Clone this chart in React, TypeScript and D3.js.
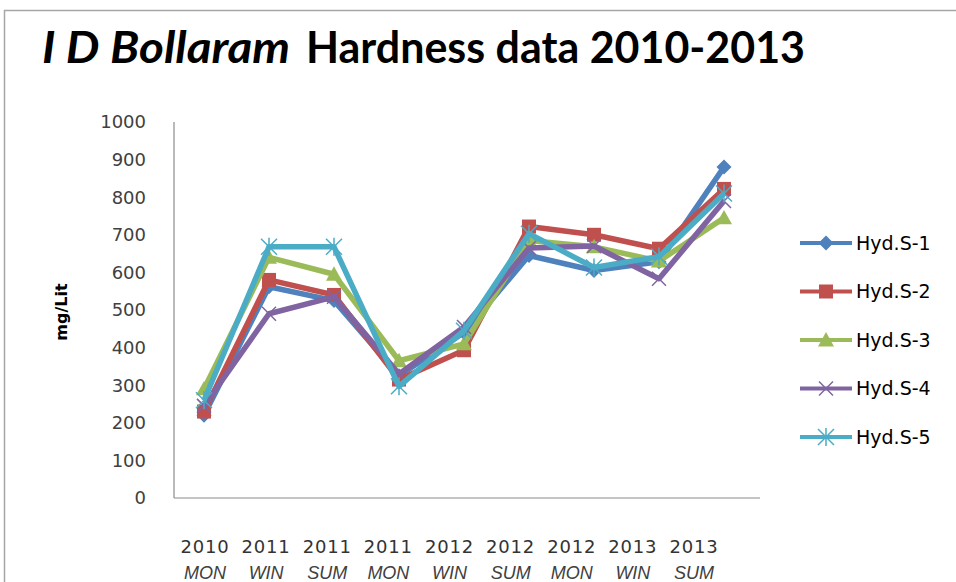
import React from "react";
import * as d3 from "d3";

const categories = ["2010|MON", "2011|WIN", "2011|SUM", "2011|MON", "2012|WIN", "2012|SUM", "2012|MON", "2013|WIN", "2013|SUM"];
const seriesNames = ["Hyd.S-1", "Hyd.S-2", "Hyd.S-3", "Hyd.S-4", "Hyd.S-5"];
const s1 = [220, 562, 525, 325, 440, 645, 605, 628, 880];
const s2 = [230, 580, 540, 315, 393, 722, 700, 663, 822];
const s3 = [290, 640, 595, 365, 410, 685, 668, 630, 745];
const s4 = [245, 490, 535, 330, 455, 665, 670, 583, 790];
const s5 = [260, 668, 668, 297, 445, 703, 613, 642, 810];
const yTicks = [0, 100, 200, 300, 400, 500, 600, 700, 800, 900, 1000];
const colors = ["#4F81BD", "#C0504D", "#9BBB59", "#8064A2", "#4BACC6"];
const markers = ["diamond", "square", "triangle", "x", "star"];

const W = 956, H = 582;

function Marker({ type, x, y, color }: { type: string; x: number; y: number; color: string }) {
  if (type === "diamond") {
    const s = 7.5;
    return <path d={`M${x},${y - s}L${x + s},${y}L${x},${y + s}L${x - s},${y}Z`} fill={color} />;
  }
  if (type === "square") {
    const s = 7;
    return <rect x={x - s} y={y - s} width={2 * s} height={2 * s} fill={color} />;
  }
  if (type === "triangle") {
    const s = 8;
    return <path d={`M${x},${y - s}L${x + s},${y + s * 0.8}L${x - s},${y + s * 0.8}Z`} fill={color} />;
  }
  if (type === "x") {
    const s = 7;
    return <path d={`M${x - s},${y - s}L${x + s},${y + s}M${x - s},${y + s}L${x + s},${y - s}`} stroke={color} strokeWidth={1.5} fill="none" />;
  }
  const s = 8;
  return (
    <path
      d={`M${x - s},${y - s}L${x + s},${y + s}M${x - s},${y + s}L${x + s},${y - s}M${x},${y - s - 1}L${x},${y + s + 1}`}
      stroke={color}
      strokeWidth={1.5}
      fill="none"
    />
  );
}

export default function App() {
  const data = [s1, s2, s3, s4, s5];
  const x = d3.scalePoint<string>().domain(categories).range([204, 724]);
  const xLabel = d3.scalePoint<string>().domain(categories).range([205, 694]);
  const y = d3.scaleLinear().domain([0, 1000]).range([498, 122]);
  const line = d3
    .line<number>()
    .x((_, i) => x(categories[i]) as number)
    .y((d) => y(d));

  const legendY = d3.scalePoint<string>().domain(seriesNames).range([243, 437]);

  return (
    <svg width={W} height={H} style={{ position: "absolute", left: 0, top: 0, background: "#fff" }}>
      <rect x={4.5} y={10.5} width={1000} height={700} fill="#fff" stroke="#a6a6a6" strokeWidth={1.5} />
      <text x={42} y={63} fontFamily="Lato" fontSize={44} fontWeight="bold" fontStyle="italic" fill="#000" textLength={248} lengthAdjust="spacingAndGlyphs">
        I D Bollaram
      </text>
      <text x={306} y={63} fontFamily="Lato" fontSize={44} fontWeight="bold" fill="#000" textLength={499} lengthAdjust="spacingAndGlyphs">
        Hardness data 2010-2013
      </text>

      {/* axes */}
      <line x1={174} x2={174} y1={122} y2={498} stroke="#8c8c8c" strokeWidth={1.2} />
      <line x1={174} x2={760} y1={498} y2={498} stroke="#8c8c8c" strokeWidth={1.2} />

      {yTicks.map((t) => (
        <text key={t} x={146} y={y(t)} dy="0.35em" textAnchor="end" fontFamily="DejaVu Sans" fontSize={18} fill="#404040">
          {t}
        </text>
      ))}

      <text
        transform={`translate(67,312) rotate(-90)`}
        textAnchor="middle"
        fontFamily="DejaVu Sans"
        fontWeight="bold"
        fontSize={16}
        fill="#000"
      >
        mg/Lit
      </text>

      {categories.map((c) => {
        const [yr, ss] = c.split("|");
        const cx = xLabel(c) as number;
        return (
          <g key={c}>
            <text x={cx} y={553} textAnchor="middle" fontFamily="DejaVu Sans" fontSize={18} letterSpacing={0.8} fill="#333">
              {yr}
            </text>
            <text x={cx} y={579} textAnchor="middle" fontFamily="Liberation Sans" fontStyle="italic" fontSize={18} fill="#404040">
              {ss}
            </text>
          </g>
        );
      })}

      {data.map((vals, si) => (
        <g key={si}>
          <path d={line(vals) || ""} fill="none" stroke={colors[si]} strokeWidth={5.5} strokeLinejoin="round" />
          {vals.map((v, i) => (
            <Marker key={i} type={markers[si]} x={x(categories[i]) as number} y={y(v)} color={colors[si]} />
          ))}
        </g>
      ))}

      {seriesNames.map((n, si) => {
        const ly = legendY(n) as number;
        return (
          <g key={n}>
            <line x1={800} x2={852} y1={ly} y2={ly} stroke={colors[si]} strokeWidth={4} />
            <Marker type={markers[si]} x={826} y={ly} color={colors[si]} />
            <text x={856} y={ly} dy="0.35em" fontFamily="DejaVu Sans" fontSize={19} fill="#000">
              {n}
            </text>
          </g>
        );
      })}
    </svg>
  );
}
